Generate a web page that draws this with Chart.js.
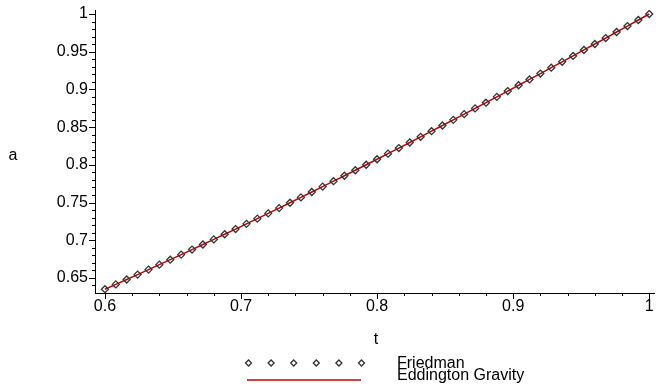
<!DOCTYPE html>
<html>
<head>
<meta charset="utf-8">
<script src="https://cdn.jsdelivr.net/npm/chart.js@4/dist/chart.umd.min.js"></script>
<style>
  html, body { margin: 0; padding: 0; background: #fff; }
  #wrap { width: 660px; height: 390px; position: relative; }
</style>
</head>
<body>
<div id="wrap"><canvas id="grafico"></canvas></div>
<script>
// Datos
const tiempos = [0.600, 0.608, 0.616, 0.624, 0.632, 0.640, 0.648, 0.656, 0.664, 0.672,
                 0.680, 0.688, 0.696, 0.704, 0.712, 0.720, 0.728, 0.736, 0.744, 0.752,
                 0.760, 0.768, 0.776, 0.784, 0.792, 0.800, 0.808, 0.816, 0.824, 0.832,
                 0.840, 0.848, 0.856, 0.864, 0.872, 0.880, 0.888, 0.896, 0.904, 0.912,
                 0.920, 0.928, 0.936, 0.944, 0.952, 0.960, 0.968, 0.976, 0.984, 0.992, 1.000];
const friedman = [0.6350, 0.6414, 0.6479, 0.6544, 0.6610, 0.6676, 0.6742, 0.6809, 0.6876, 0.6943,
                  0.7011, 0.7079, 0.7148, 0.7217, 0.7286, 0.7356, 0.7426, 0.7497, 0.7568, 0.7639,
                  0.7711, 0.7783, 0.7855, 0.7928, 0.8001, 0.8074, 0.8148, 0.8222, 0.8296, 0.8371,
                  0.8446, 0.8521, 0.8596, 0.8672, 0.8748, 0.8824, 0.8901, 0.8978, 0.9055, 0.9132,
                  0.9210, 0.9288, 0.9366, 0.9444, 0.9523, 0.9602, 0.9681, 0.9761, 0.9840, 0.9920, 1.0000];
// la curva de Eddington coincide con la de Friedman en la imagen
const eddington = friedman.slice();

// Marcas de los ejes
const xMarcas = [0.6, 0.62, 0.64, 0.66, 0.68, 0.7, 0.72, 0.74, 0.76, 0.78, 0.8,
                 0.82, 0.84, 0.86, 0.88, 0.9, 0.92, 0.94, 0.96, 0.98, 1.0];
const xEtiquetas = ['0.6', '0.7', '0.8', '0.9', '1'];
const yMarcas = [0.64, 0.65, 0.66, 0.67, 0.68, 0.69, 0.7, 0.71, 0.72, 0.73, 0.74, 0.75,
                 0.76, 0.77, 0.78, 0.79, 0.8, 0.81, 0.82, 0.83, 0.84, 0.85, 0.86, 0.87,
                 0.88, 0.89, 0.9, 0.91, 0.92, 0.93, 0.94, 0.95, 0.96, 0.97, 0.98, 0.99, 1.0];
const yEtiquetas = ['0.65', '0.7', '0.75', '0.8', '0.85', '0.9', '0.95', '1'];

const nombres = ['Friedman', 'Eddington Gravity'];

const fuente = '"Liberation Sans", Arial, sans-serif';

function etiqueta(v, lista) {
    const txt = String(Math.round(v * 100) / 100);
    return lista.includes(txt) ? txt : '';
}

// Dibuja las marcas de los ejes (largas y cortas) y la leyenda
const marcasPlugin = {
    id: 'marcas',
    afterDraw(chart) {
        const ctx = chart.ctx;
        const xs = chart.scales.x, ys = chart.scales.y;
        const area = chart.chartArea;
        ctx.save();
        ctx.strokeStyle = '#000';
        ctx.lineWidth = 1;
        ctx.beginPath();
        xMarcas.forEach(v => {
            const px = Math.round(xs.getPixelForValue(v)) + 0.5;
            const largo = etiqueta(v, xEtiquetas) ? 6 : 3;
            ctx.moveTo(px, area.bottom);
            ctx.lineTo(px, area.bottom + largo);
        });
        yMarcas.forEach(v => {
            const py = Math.round(ys.getPixelForValue(v)) + 0.5;
            const largo = etiqueta(v, yEtiquetas) ? 6 : 3;
            ctx.moveTo(area.left, py);
            ctx.lineTo(area.left - largo, py);
        });
        ctx.stroke();

        // titulos de los ejes
        ctx.fillStyle = '#000';
        ctx.font = '16px ' + fuente;
        ctx.textAlign = 'center';
        ctx.textBaseline = 'middle';
        ctx.fillText('t', 376, 340);
        ctx.fillText('a', 13, 156);

        // leyenda
        const ds0 = chart.data.datasets[0];
        ctx.lineWidth = 1.3;
        for (let i = 0; i < 6; i++) {
            const cx = 248.5 + i * 22.6, cy = 363;
            ctx.beginPath();
            ctx.moveTo(cx, cy - 3); ctx.lineTo(cx + 3, cy);
            ctx.lineTo(cx, cy + 3); ctx.lineTo(cx - 3, cy);
            ctx.closePath();
            ctx.strokeStyle = ds0.borderColor;
            ctx.stroke();
        }
        ctx.beginPath();
        ctx.strokeStyle = chart.data.datasets[1].borderColor;
        ctx.lineWidth = 1.5;
        ctx.moveTo(247, 380);
        ctx.lineTo(361, 380);
        ctx.stroke();
        ctx.textAlign = 'left';
        ctx.textBaseline = 'alphabetic';
        ctx.fillText(nombres[0], 397, 368);
        ctx.fillText(nombres[1], 397, 380);
        ctx.restore();
    }
};

const ctx = document.getElementById('grafico').getContext('2d');

new Chart(ctx, {
    type: 'scatter',
    data: {
        datasets: [{
            label: nombres[0],
            data: tiempos.map((t, i) => ({ x: t, y: friedman[i] })),
            showLine: false,
            pointStyle: 'rectRot',
            pointRadius: 3.5,
            pointBorderWidth: 1.3,
            borderColor: '#333333',
            backgroundColor: 'rgba(255,255,255,0)',
            order: 0
        }, {
            label: nombres[1],
            data: tiempos.map((t, i) => ({ x: t, y: eddington[i] })),
            showLine: true,
            pointRadius: 0,
            borderColor: '#c00000',
            borderWidth: 1.5,
            order: 1
        }]
    },
    options: {
        responsive: true,
        maintainAspectRatio: false,
        animation: false,
        layout: { padding: { top: 10, right: 4, left: 0, bottom: 0 } },
        plugins: {
            legend: { display: false },
            tooltip: { enabled: false }
        },
        scales: {
            x: {
                type: 'linear',
                min: 0.5927,
                max: 1.004,
                afterBuildTicks(scale) { scale.ticks = xMarcas.map(v => ({ value: v })); },
                afterFit(scale) { scale.height = 97; },
                grid: { display: false, drawTicks: false },
                border: { display: true, color: '#000', width: 1 },
                ticks: {
                    color: '#000',
                    font: { family: fuente, size: 16 },
                    padding: 4,
                    maxRotation: 0,
                    autoSkip: false,
                    callback: v => etiqueta(v, xEtiquetas)
                }
            },
            y: {
                type: 'linear',
                min: 0.630,
                max: 1.0053,
                afterBuildTicks(scale) { scale.ticks = yMarcas.map(v => ({ value: v })); },
                afterFit(scale) {
                    scale.width = 95;
                    scale.paddingTop = 0;
                    scale.paddingBottom = 0;
                },
                grid: { display: false, drawTicks: false },
                border: { display: true, color: '#000', width: 1 },
                ticks: {
                    color: '#000',
                    font: { family: fuente, size: 16 },
                    padding: 7,
                    autoSkip: false,
                    callback: v => etiqueta(v, yEtiquetas)
                }
            }
        }
    },
    plugins: [marcasPlugin]
});
</script>
</body>
</html>
